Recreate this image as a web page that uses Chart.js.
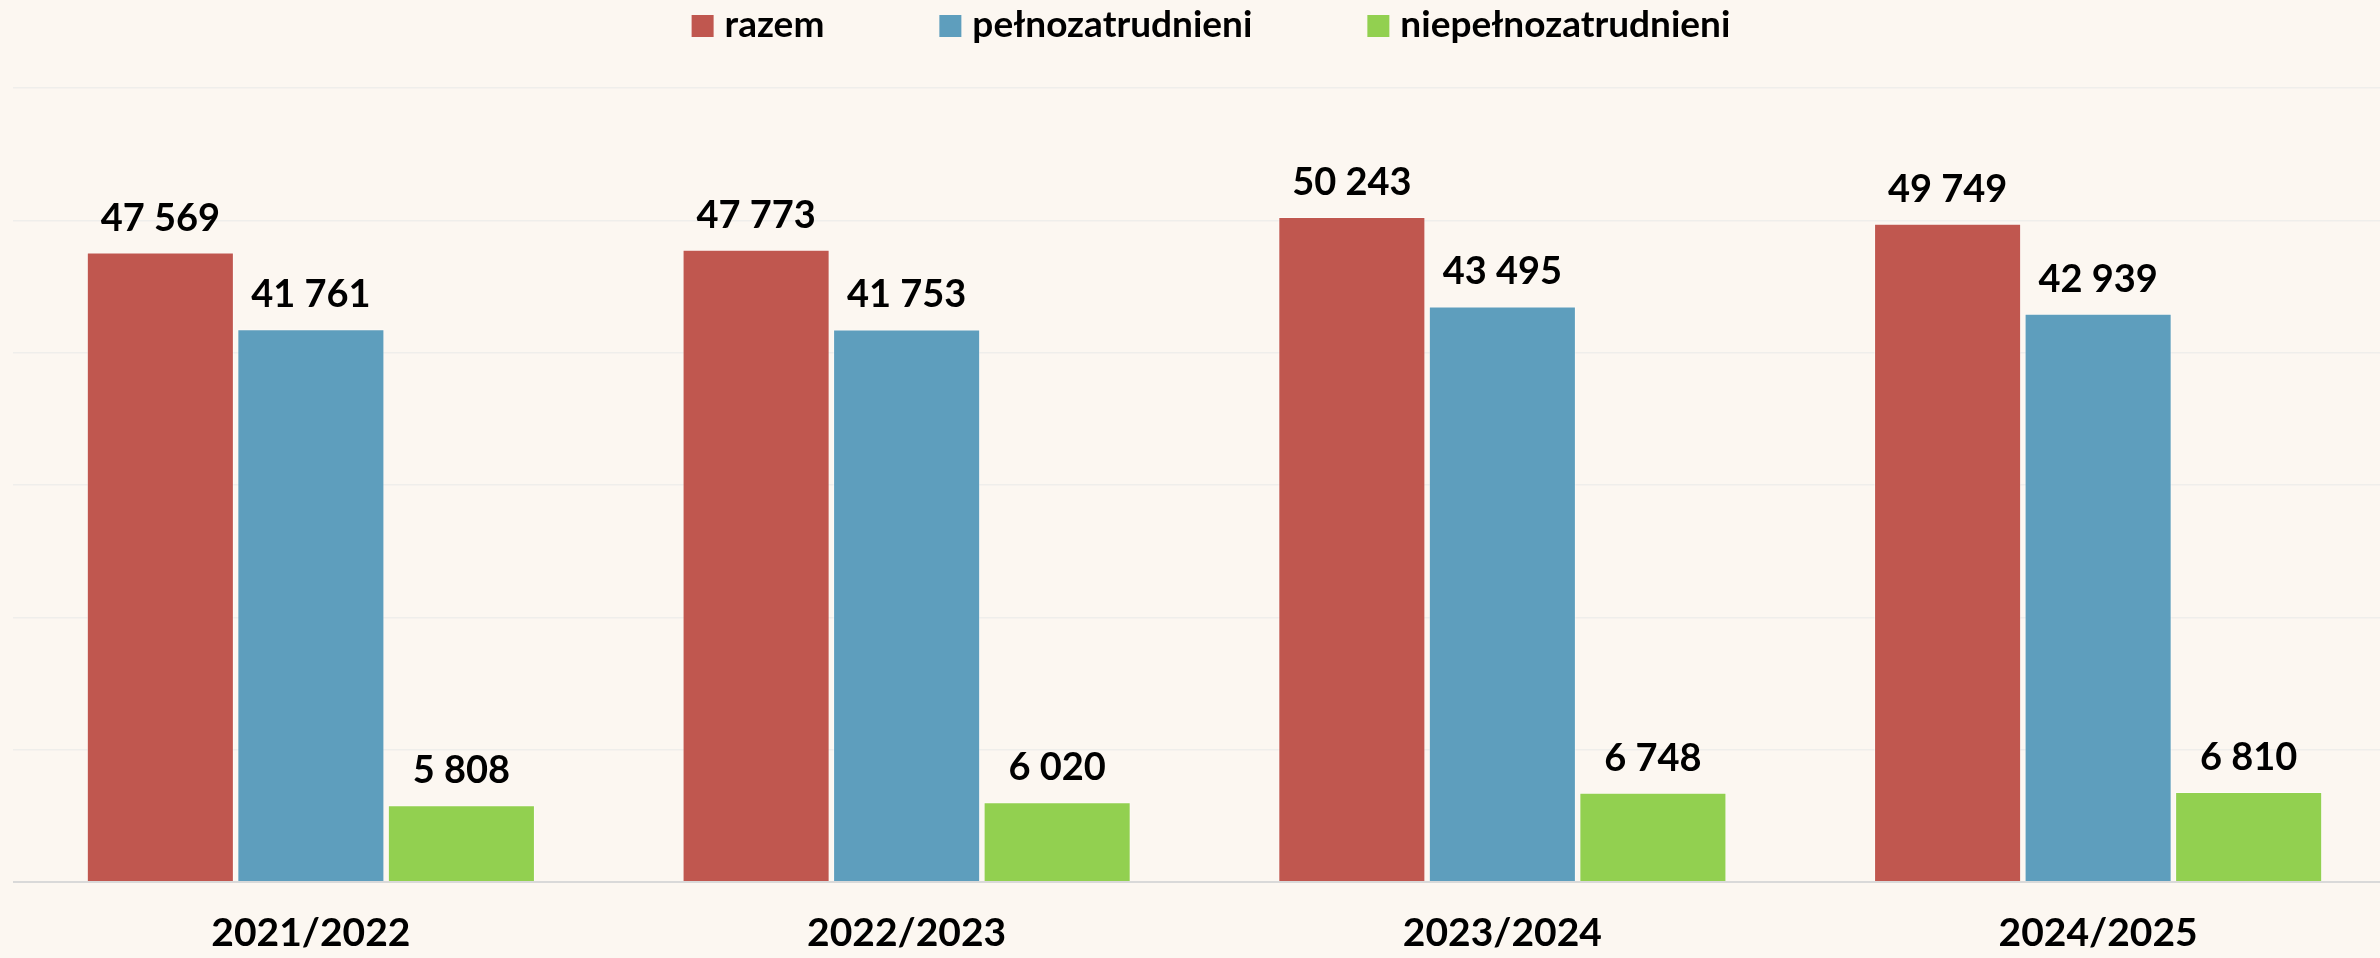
<!DOCTYPE html>
<html lang="pl">
<head>
<meta charset="utf-8">
<title>Studenci</title>
<script src="https://cdn.jsdelivr.net/npm/chart.js@4/dist/chart.umd.min.js"></script>
<style>
  html, body { margin: 0; padding: 0; background: #fcf7f1; overflow: hidden; }
  #wrap { width: 2396px; height: 958px; position: relative; }
</style>
</head>
<body>
<div id="wrap"><canvas id="chart"></canvas></div>
<script>
const years = ['2021/2022', '2022/2023', '2023/2024', '2024/2025'];
const razem = [47569, 47773, 50243, 49749];
const pelno = [41761, 41753, 43495, 42939];
const niepelno = [5808, 6020, 6748, 6810];
const seriesNames = ['razem', 'pełnozatrudnieni', 'niepełnozatrudnieni'];
const seriesColors = ['#c0574f', '#5e9ebd', '#92d050'];
const yTicks = [0, 10000, 20000, 30000, 40000, 50000, 60000];

const FONT = 'Lato, Carlito, "Open Sans", sans-serif';

function fmt(v) {
    return String(v).replace(/\B(?=(\d{3})+(?!\d))/g, ' ');
}

// value labels above each bar
const valueLabels = {
    id: 'valueLabels',
    afterDatasetsDraw(chart) {
        const ctx = chart.ctx;
        ctx.save();
        ctx.font = 'bold 38px ' + FONT;
        ctx.fillStyle = '#000';
        ctx.textAlign = 'center';
        ctx.textBaseline = 'alphabetic';
        chart.data.datasets.forEach((ds, i) => {
            chart.getDatasetMeta(i).data.forEach((bar, j) => {
                ctx.fillText(fmt(ds.data[j]), bar.x, bar.y - 22);
            });
        });
        ctx.restore();
    }
};

// legend drawn by hand so spacing matches the original
const topLegend = {
    id: 'topLegend',
    afterDraw(chart) {
        const ctx = chart.ctx;
        const box = 22, gap = 11, spacing = 115;
        ctx.save();
        ctx.font = 'bold 37px ' + FONT;
        ctx.textBaseline = 'middle';
        ctx.textAlign = 'left';
        const items = chart.data.datasets.map(ds => ({
            text: ds.label,
            color: ds.backgroundColor,
            w: box + gap + ctx.measureText(ds.label).width
        }));
        const total = items.reduce((s, it) => s + it.w, 0) + spacing * (items.length - 1);
        let x = 1211 - total / 2;
        items.forEach(it => {
            ctx.fillStyle = it.color;
            ctx.fillRect(x, 15, box, box);
            ctx.fillStyle = '#000';
            ctx.fillText(it.text, x + box + gap, 25);
            x += it.w + spacing;
        });
        ctx.restore();
    }
};

const ctx = document.getElementById('chart').getContext('2d');
new Chart(ctx, {
    type: 'bar',
    data: {
        labels: years,
        datasets: [razem, pelno, niepelno].map((d, i) => ({
            label: seriesNames[i],
            data: d,
            backgroundColor: seriesColors[i],
            borderColor: 'rgba(255,255,255,0.45)',
            borderWidth: 1,
            categoryPercentage: 0.758,
            barPercentage: 0.977
        }))
    },
    options: {
        responsive: true,
        maintainAspectRatio: false,
        animation: false,
        layout: {
            padding: { top: 88, left: 13, right: 0, bottom: -27 }
        },
        scales: {
            x: {
                grid: { display: false, drawTicks: false, tickLength: 0 },
                border: { display: false },
                ticks: {
                    color: '#000',
                    padding: 32,
                    font: { family: FONT, size: 39, weight: 'bold', lineHeight: 1 }
                }
            },
            y: {
                min: yTicks[0],
                max: yTicks[yTicks.length - 1],
                afterBuildTicks(scale) {
                    scale.ticks = yTicks.map(v => ({ value: v }));
                },
                border: { display: false },
                grid: {
                    drawTicks: false,
                    tickLength: 0,
                    color: c => c.tick && c.tick.value === 0 ? '#d9d9d9' : '#efeeeb',
                    lineWidth: c => c.tick && c.tick.value === 0 ? 2 : 1.5
                },
                ticks: { display: false }
            }
        },
        plugins: {
            legend: { display: false },
            tooltip: { enabled: false }
        }
    },
    plugins: [valueLabels, topLegend]
});
</script>
</body>
</html>
